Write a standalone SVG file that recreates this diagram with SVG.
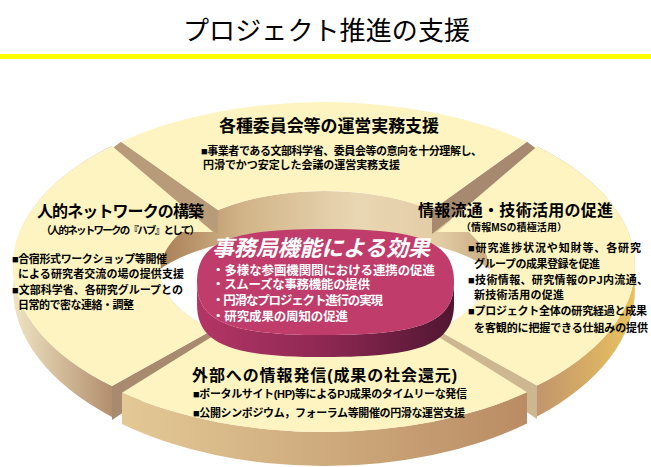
<svg xmlns="http://www.w3.org/2000/svg" width="651" height="467" viewBox="0 0 651 467">
<defs>
<style>
.t{font-family:"Liberation Sans","Noto Sans CJK JP",sans-serif;font-weight:bold;fill:#000}
.title{font-family:"Noto Sans CJK JP",sans-serif;font-weight:normal;font-size:26px;fill:#000}
.h{font-size:16px}
.s{font-size:11px}
.d{fill:#fff;font-size:12.5px}
.dt{fill:#fff;font-size:22px;font-style:italic}
.surf{fill:#fdf4c2}
</style>
<linearGradient id="gWall" gradientUnits="userSpaceOnUse" x1="160" y1="0" x2="490" y2="0">
<stop offset="0" stop-color="#a97f57"/><stop offset="0.25" stop-color="#d2b488"/><stop offset="0.6" stop-color="#e9d7b3"/><stop offset="0.85" stop-color="#e2cca4"/><stop offset="1" stop-color="#c8aa80"/>
</linearGradient>
<linearGradient id="gLeft" gradientUnits="userSpaceOnUse" x1="13" y1="0" x2="112" y2="0">
<stop offset="0" stop-color="#efe4c2"/><stop offset="1" stop-color="#b38f6e"/>
</linearGradient>
<linearGradient id="gRight" gradientUnits="userSpaceOnUse" x1="537" y1="0" x2="635" y2="0">
<stop offset="0" stop-color="#c2956c"/><stop offset="1" stop-color="#e9c25f"/>
</linearGradient>
<linearGradient id="gBottom" gradientUnits="userSpaceOnUse" x1="122" y1="0" x2="527" y2="0">
<stop offset="0" stop-color="#e3c995"/><stop offset="1" stop-color="#ba8c64"/>
</linearGradient>
<linearGradient id="gDiscSide" gradientUnits="userSpaceOnUse" x1="197" y1="0" x2="454" y2="0">
<stop offset="0" stop-color="#b33566"/><stop offset="0.5" stop-color="#8d2852"/><stop offset="1" stop-color="#511631"/>
</linearGradient>
<clipPath id="holeClip"><ellipse cx="325" cy="271" rx="165" ry="80"/></clipPath>
</defs>

<g id="header">
<text class="title" x="183" y="40" textLength="287">プロジェクト推進の支援</text>
<rect x="0" y="54" width="651" height="5" fill="#ffff00"/>
</g>

<g id="hole">
<ellipse cx="325" cy="271" rx="165" ry="80" fill="url(#gWall)"/>
<ellipse cx="325" cy="300" rx="185" ry="68" fill="#fff" clip-path="url(#holeClip)"/>
</g>

<g id="seg-top">
<polygon points="121,141.8 218,210.1 218,234 110,150" fill="#b89c7a"/>
<polygon points="527,141.8 432,210.1 432,234 538,150" fill="#a78970"/>
<path class="surf" d="M121,141.8 A311,164 0 0 1 527,141.8 L432,210.1 A165,80 0 0 0 218,210.1 Z"/>
<text class="t" x="219" y="132" font-size="17" textLength="220">各種委員会等の運営実務支援</text>
<text class="t s" x="201" y="155" textLength="281">■事業者である文部科学省、委員会等の意向を十分理解し、</text>
<text class="t s" x="203" y="169" textLength="197">円滑でかつ安定した会議の運営実務支援</text>
</g>

<g id="seg-left">
<path d="M112,146 A311,164 0 0 0 112,386 L112,417 A311,175 0 0 1 112,161 Z" fill="url(#gLeft)"/>
<polygon points="112,386 213,329.7 213,352 112,420" fill="#a88b6f"/>
<path class="surf" d="M112,146 A311,164 0 0 0 112,386 L213,329.7 A165,80 0 0 1 181,232 L213,232 Z"/>
<text class="t h" x="37" y="217" textLength="167">人的ネットワークの構築</text>
<text class="t" x="41" y="234" font-size="10.5" textLength="159">（人的ネットワークの『ハブ』として）</text>
<text class="t s" x="12" y="263" textLength="155">■合宿形式ワークショップ等開催</text>
<text class="t s" x="18" y="278" textLength="166">による研究者交流の場の提供支援</text>
<text class="t s" x="12" y="294" textLength="171">■文部科学省、各研究グループとの</text>
<text class="t s" x="18" y="309" textLength="116">日常的で密な連絡・調整</text>
</g>

<g id="seg-right">
<path d="M537,146.5 A311,164 0 0 1 537,385.5 L537,416.5 A311,175 0 0 0 537,161.5 Z" fill="url(#gRight)"/>
<polygon points="537,385.5 437,329.7 437,352 537,419" fill="#cdb791"/>
<path class="surf" d="M537,146.5 A311,164 0 0 1 537,385.5 L437,329.7 A165,80 0 0 0 469,232 L437,232 Z"/>
<text class="t h" x="418" y="216" textLength="195">情報流通・技術活用の促進</text>
<text class="t" x="461" y="231" font-size="10" textLength="106">（情報MSの積極活用）</text>
<text class="t s" x="468" y="252" textLength="173">■研究進捗状況や知財等、各研究</text>
<text class="t s" x="474" y="268" textLength="126">グループの成果登録を促進</text>
<text class="t s" x="468" y="284" textLength="180">■技術情報、研究情報のPJ内流通、</text>
<text class="t s" x="474" y="299" textLength="90">新技術活用の促進</text>
<text class="t s" x="468" y="315" textLength="179">■プロジェクト全体の研究経過と成果</text>
<text class="t s" x="474" y="332" textLength="174">を客観的に把握できる仕組みの提供</text>
</g>

<g id="seg-bottom">
<path d="M122,392.7 A311,164 0 0 0 527,392.2 L527,423.6 A311,175 0 0 1 122,424 Z" fill="url(#gBottom)"/>
<path class="surf" d="M122,392.7 L219,332.3 A165,80 0 0 0 431,332.3 L527,392.2 A311,164 0 0 1 122,392.7 Z"/>
<text class="t h" x="192" y="381" textLength="265">外部への情報発信(成果の社会還元)</text>
<text class="t s" x="193" y="398" textLength="274">■ポータルサイト(HP)等によるPJ成果のタイムリーな発信</text>
<text class="t s" x="193" y="417" textLength="272">■公開シンポジウム，フォーラム等開催の円滑な運営支援</text>
</g>

<g id="disc">
<path d="M197,282 L197,304 C197,343.75 229.1,357 325.5,357 C421.9,357 454,343.75 454,304 L454,282 C454,321.75 421.9,335 325.5,335 C229.1,335 197,321.75 197,282 Z" fill="url(#gDiscSide)"/>
<path d="M197,282 C197,242.25 229.1,229 325.5,229 C421.9,229 454,242.25 454,282 C454,321.75 421.9,335 325.5,335 C229.1,335 197,321.75 197,282 Z" fill="#c03c6a"/>
<text class="t dt" x="212" y="256" textLength="218">事務局機能による効果</text>
<text class="t d" x="212" y="275" textLength="223">・多様な参画機関間における連携の促進</text>
<text class="t d" x="212" y="289" textLength="158">・スムーズな事務機能の提供</text>
<text class="t d" x="212" y="305" textLength="171">・円滑なプロジェクト進行の実現</text>
<text class="t d" x="212" y="321" textLength="136">・研究成果の周知の促進</text>
</g>
</svg>
